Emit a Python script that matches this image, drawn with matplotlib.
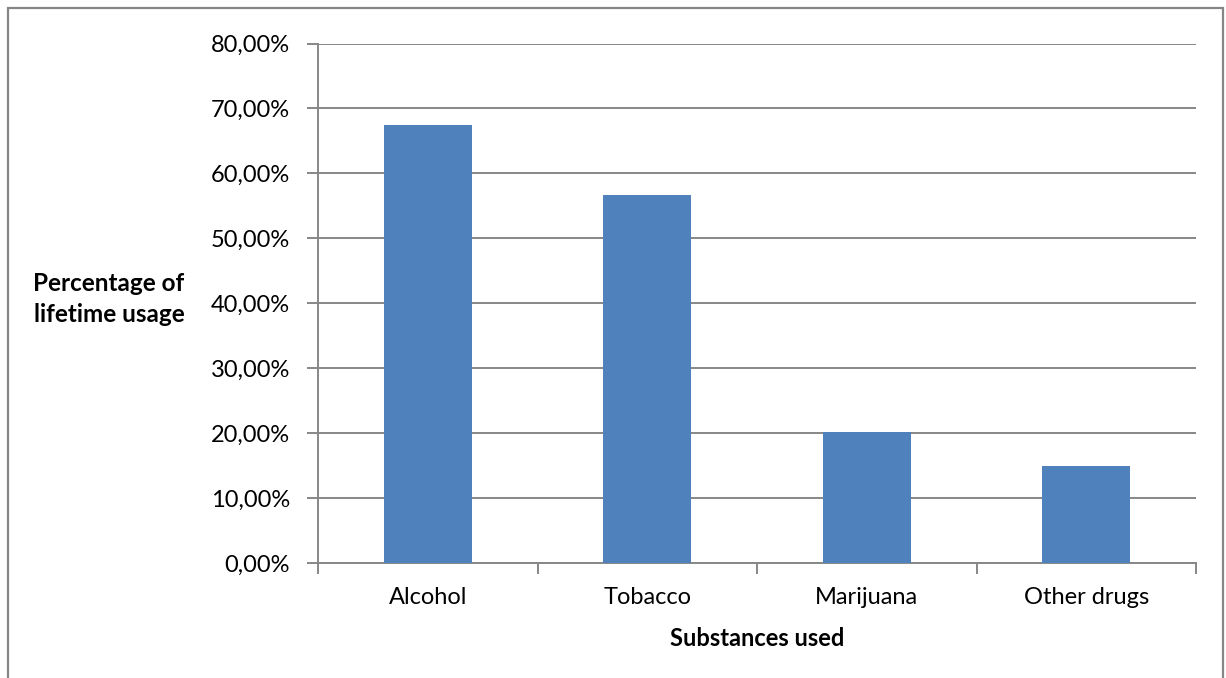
import matplotlib
matplotlib.use("Agg")
import matplotlib.pyplot as plt
from matplotlib.patches import Rectangle
from matplotlib.ticker import FuncFormatter, MultipleLocator

categories = ["Alcohol", "Tobacco", "Marijuana", "Other drugs"]
usage_pct = [67.4, 56.7, 20.2, 14.9]

plt.rcParams['font.family'] = ['Lato', 'DejaVu Sans']

W, H = 1226, 678
fig = plt.figure(figsize=(W / 100, H / 100), dpi=100)

# chart frame
fig.patches.append(Rectangle((8 / W, -0.01), (1223 - 8) / W, (H - 8) / H + 0.01,
                             transform=fig.transFigure, fill=False,
                             edgecolor="#868686", linewidth=1.6))

ax = fig.add_axes([318 / W, (H - 563) / H, (1196 - 318) / W, (563 - 43.5) / H])

x = range(len(categories))
ax.bar(x, usage_pct, width=0.40, color="#4F81BD", zorder=3)

ax.set_xlim(-0.5, len(categories) - 0.5)
ax.set_ylim(0, 80)
ax.yaxis.set_major_locator(MultipleLocator(10))
ax.yaxis.set_major_formatter(FuncFormatter(lambda v, _: f"{v:.2f}".replace(".", ",") + "%"))
ax.grid(axis="y", color="#878787", linewidth=1.4, zorder=0)

ax.set_xticks(list(x))
ax.set_xticklabels(categories)
ax.set_xticks([i - 0.5 for i in range(len(categories) + 1)], minor=True)
ax.tick_params(axis="x", which="major", length=0, pad=17, labelsize=17)
ax.tick_params(axis="x", which="minor", length=8, width=1.4, color="#878787", direction="out")
ax.tick_params(axis="y", length=8, width=1.4, color="#878787", labelsize=17, pad=12)

for side in ("top", "right"):
    ax.spines[side].set_visible(False)
for side in ("left", "bottom"):
    ax.spines[side].set_color("#878787")
    ax.spines[side].set_linewidth(1.4)

ax.set_xlabel("Substances used", fontweight="bold", fontsize=17, labelpad=14)
fig.text(109 / W, 1 - 299 / H, "Percentage of\nlifetime usage", fontweight="bold",
         fontsize=17.5, ha="center", va="center", linespacing=1.45)

fig.savefig("out.png", dpi=100, facecolor="white")
